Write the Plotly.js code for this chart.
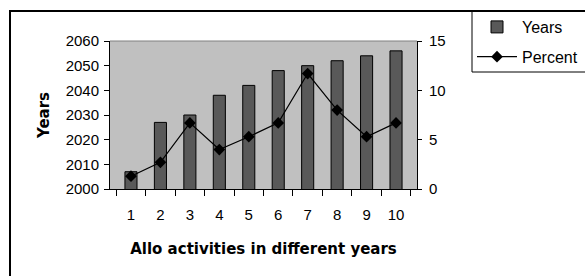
<!DOCTYPE html>
<html>
<head>
<meta charset="utf-8">
<script src="https://cdn.plot.ly/plotly-3.0.1.min.js"></script>
<style>html,body{margin:0;padding:0;background:#fff;}#chart{width:585px;height:276px;}</style>
</head>
<body>
<div id="chart"></div>
<script>
const categories = ['1','2','3','4','5','6','7','8','9','10'];
const yearsValues = [2007, 2027, 2030, 2038, 2042, 2048, 2050, 2052, 2054, 2056];
const percentValues = [1.3, 2.7, 6.7, 4.0, 5.3, 6.7, 11.7, 8.0, 5.3, 6.7];
const leftTicks = [2000, 2010, 2020, 2030, 2040, 2050, 2060];
const rightTicks = [0, 5, 10, 15];

const tickFont = {family: 'Liberation Sans, Arial, sans-serif', size: 15, color: '#000'};
const titleFont = {family: 'DejaVu Sans, sans-serif', size: 15, color: '#000', weight: 'bold'};

// plot area: x 110..417, y 41..189
const W = 585, H = 276;
const L = 110, R = 417, T = 41, B = 189;
const px = v => (v - L) / (R - L);
const py = v => (B - v) / (B - T);

const traces = [
  {
    type: 'bar', name: 'Years', x: categories, y: yearsValues,
    width: 0.41, legendgroup: 'a',
    marker: {color: '#595959', line: {color: '#000', width: 1}},
    yaxis: 'y', xaxis: 'x', hoverinfo: 'x+y'
  },
  {
    type: 'scatter', mode: 'lines+markers', name: 'Percent', x: categories, y: percentValues,
    legendgroup: 'b',
    line: {color: '#000', width: 1.2},
    marker: {symbol: 'diamond', size: 9, color: '#000'},
    yaxis: 'y2', xaxis: 'x'
  }
];

const layout = {
  width: W, height: H,
  margin: {l: L, r: W - R, t: T, b: H - B, pad: 0, autoexpand: false},
  paper_bgcolor: '#fff', plot_bgcolor: '#c0c0c0',
  showlegend: true,
  bargap: 0.59,
  xaxis: {
    type: 'category', tickson: 'boundaries', ticks: 'outside', ticklen: 6, tickcolor: '#000', tickwidth: 1,
    showline: true, linecolor: '#000', linewidth: 1, showgrid: false, zeroline: false,
    tickfont: tickFont, ticklabelstandoff: 12, automargin: false,
    title: {text: 'Allo activities in different years', font: titleFont, standoff: 21}
  },
  xaxis2: {
    type: 'linear', overlaying: 'x', anchor: 'y', side: 'bottom', range: [0.5, 10.5],
    tick0: 0.5, dtick: 1, ticks: 'inside', ticklen: 6, tickcolor: '#000', tickwidth: 1,
    showticklabels: false, showgrid: false, zeroline: false, showline: false
  },
  yaxis: {
    range: [2000, 2060], tickvals: leftTicks, ticks: 'outside', ticklen: 5, tickcolor: '#000', tickwidth: 1,
    showline: true, linecolor: '#000', linewidth: 1, showgrid: false, zeroline: false,
    tickfont: tickFont, ticklabelstandoff: 2, automargin: false,
    title: {text: 'Years', font: titleFont, standoff: 12}
  },
  yaxis3: {
    range: [2000, 2060], tickvals: leftTicks, overlaying: 'y', anchor: 'x', side: 'left',
    ticks: 'inside', ticklen: 3, tickcolor: '#000', tickwidth: 1,
    showticklabels: false, showgrid: false, zeroline: false, showline: false
  },
  yaxis2: {
    range: [0, 15], tickvals: rightTicks, overlaying: 'y', side: 'right', anchor: 'x',
    ticks: 'outside', ticklen: 4, tickcolor: '#000', tickwidth: 1,
    showline: true, linecolor: '#000', linewidth: 1, showgrid: false, zeroline: false,
    tickfont: tickFont, ticklabelstandoff: 4, automargin: false
  },
  yaxis4: {
    range: [0, 15], tickvals: rightTicks, overlaying: 'y', side: 'right', anchor: 'x',
    ticks: 'inside', ticklen: 4, tickcolor: '#000', tickwidth: 1,
    showticklabels: false, showgrid: false, zeroline: false, showline: false
  },
  legend: {
    xref: 'container', yref: 'container',
    x: 472 / W, y: 1 - 10 / H, xanchor: 'left', yanchor: 'top',
    font: {family: 'Liberation Sans, Arial, sans-serif', size: 16, color: '#000'},
    bgcolor: 'rgba(0,0,0,0)', borderwidth: 0, itemwidth: 40, tracegroupgap: 6,
    traceorder: 'grouped'
  },
  shapes: [
    {type: 'line', xref: 'paper', yref: 'paper', x0: 0, x1: 1, y0: 1, y1: 1, line: {color: '#808080', width: 1}},
    // outer chart border (top and left edges only are inside the picture)
    {type: 'line', xref: 'paper', yref: 'paper', x0: px(10), x1: px(586), y0: py(11), y1: py(11), line: {color: '#000', width: 2}},
    {type: 'line', xref: 'paper', yref: 'paper', x0: px(10), x1: px(10), y0: py(10), y1: py(277), line: {color: '#000', width: 2}},
    // legend box (left and bottom edges)
    {type: 'line', xref: 'paper', yref: 'paper', x0: px(472), x1: px(472), y0: py(11), y1: py(72), line: {color: '#000', width: 1}},
    {type: 'line', xref: 'paper', yref: 'paper', x0: px(472), x1: px(586), y0: py(72), y1: py(72), line: {color: '#000', width: 1}}
  ]
};

Plotly.newPlot('chart', traces, layout, {staticPlot: true, displayModeBar: false});
</script>
</body>
</html>
